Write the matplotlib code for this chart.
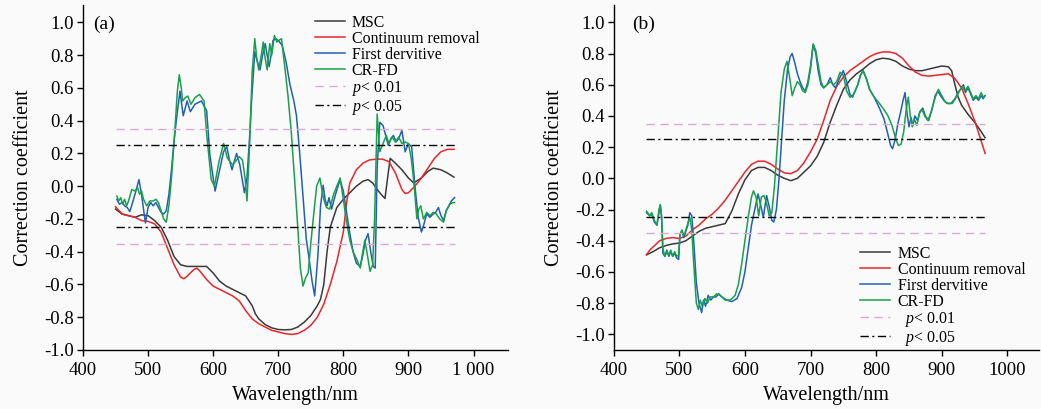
import matplotlib
matplotlib.use("Agg")
import matplotlib.pyplot as plt

plt.rcParams['font.family'] = ['Liberation Serif', 'DejaVu Serif']
plt.rcParams['mathtext.fontset'] = 'custom'
plt.rcParams['mathtext.it'] = 'Liberation Serif:italic'
plt.rcParams['mathtext.rm'] = 'Liberation Serif'
plt.rcParams['axes.unicode_minus'] = False

# ---------------- panel (a) ----------------
msc_a_x = [450, 460, 470, 480, 490, 500, 510, 520, 530, 540, 550, 560, 570, 580, 590,
           600, 610, 620, 630, 640, 650, 660, 665, 670, 680, 690, 700, 710, 720, 730,
           740, 750, 760, 765, 770, 775, 780, 790, 800, 810, 820, 830, 838, 845, 852,
           858, 864, 868, 872, 880, 890, 900, 908, 920, 930, 938, 950, 960, 970]
msc_a = [-0.14, -0.17, -0.18, -0.19, -0.175, -0.18, -0.21, -0.25, -0.33, -0.43, -0.48,
         -0.49, -0.49, -0.49, -0.49, -0.53, -0.58, -0.61, -0.63, -0.65, -0.67, -0.73,
         -0.78, -0.81, -0.845, -0.865, -0.875, -0.877, -0.875, -0.86, -0.83, -0.79,
         -0.73, -0.69, -0.60, -0.40, -0.25, -0.13, -0.08, -0.04, 0.0, 0.03, 0.04, 0.02,
         -0.02, -0.05, -0.075, 0.05, 0.17, 0.14, 0.10, 0.05, 0.02, 0.05, 0.09, 0.11,
         0.10, 0.08, 0.055]

cr_a_x = [450, 460, 470, 480, 490, 500, 510, 520, 530, 540, 550, 555, 560, 570, 575,
          580, 590, 600, 610, 620, 630, 640, 650, 660, 670, 680, 690, 700, 710, 720,
          730, 740, 750, 760, 770, 780, 790, 800, 805, 810, 820, 830, 840, 850, 860,
          870, 880, 890, 895, 900, 910, 920, 930, 940, 950, 960, 970]
cr_a = [-0.125, -0.17, -0.18, -0.19, -0.21, -0.215, -0.23, -0.28, -0.38, -0.48, -0.555,
        -0.565, -0.55, -0.51, -0.50, -0.52, -0.57, -0.61, -0.63, -0.65, -0.67, -0.70,
        -0.76, -0.81, -0.84, -0.86, -0.88, -0.89, -0.90, -0.905, -0.90, -0.88, -0.85,
        -0.80, -0.72, -0.60, -0.46, -0.28, -0.10, 0.02, 0.10, 0.14, 0.16, 0.165, 0.165,
        0.15, 0.08, -0.02, -0.045, -0.04, 0.0, 0.05, 0.11, 0.17, 0.21, 0.225, 0.225]

fd_a_x = [452, 456, 460, 464, 468, 472, 477, 482, 486, 490, 493, 496, 500, 504, 508,
          512, 516, 520, 524, 528, 532, 536, 540, 544, 549, 554, 560, 565, 572, 582,
          590, 595, 603, 610, 616, 621, 625, 629, 636, 641, 648, 652, 656, 659, 664,
          668, 672, 676, 680, 683, 686, 689, 692, 697, 702, 706, 712, 718, 724, 728,
          733, 738, 743, 748, 752, 756, 761, 765, 769, 772, 775, 778, 782, 788, 795,
          800, 805, 810, 815, 820, 826, 830, 834, 838, 842, 846, 849, 852, 856, 861,
          865, 869, 873, 877, 881, 885, 890, 895, 900, 905, 910, 915, 920, 924, 928,
          933, 938, 942, 946, 950, 954, 958, 962, 966, 971]
fd_a = [-0.08, -0.11, -0.10, -0.12, -0.13, -0.155, -0.09, -0.02, 0.04, -0.05, -0.14,
        -0.225, -0.13, -0.10, -0.12, -0.10, -0.13, -0.16, -0.17, -0.15, -0.05, 0.10,
        0.28, 0.42, 0.58, 0.43, 0.52, 0.455, 0.50, 0.52, 0.46, 0.19, -0.03, 0.10, 0.21,
        0.24, 0.16, 0.10, 0.20, 0.13, -0.04, 0.05, 0.30, 0.52, 0.82, 0.76, 0.71, 0.80,
        0.87, 0.80, 0.73, 0.80, 0.89, 0.90, 0.88, 0.86, 0.76, 0.62, 0.52, 0.43, 0.20,
        -0.06, -0.32, -0.46, -0.58, -0.67, -0.42, -0.12, 0.006, -0.08, -0.12, -0.07,
        -0.14, -0.05, 0.04, -0.03, -0.16, -0.29, -0.40, -0.47, -0.49, -0.42, -0.33,
        -0.29, -0.40, -0.49, -0.50, 0.12, 0.39, 0.37, 0.31, 0.25, 0.29, 0.31, 0.27,
        0.29, 0.34, 0.21, 0.26, 0.24, 0.00, -0.19, -0.28, -0.23, -0.17, -0.19, -0.17,
        -0.16, -0.13, -0.18, -0.21, -0.15, -0.12, -0.09, -0.07]

crfd_a_x = [452, 455, 458, 461, 464, 467, 470, 475, 480, 484, 487, 490, 493, 498, 503,
            508, 512, 516, 520, 524, 528, 532, 536, 541, 545, 548, 551, 553, 557, 561,
            566, 572, 579, 586, 590, 597, 602, 609, 616, 622, 630, 636, 640, 645, 649,
            652, 656, 660, 664, 667, 670, 674, 677, 680, 683, 687, 690, 694, 698, 701,
            705, 710, 715, 720, 725, 729, 734, 738, 742, 746, 750, 754, 759, 764, 767,
            770, 774, 779, 785, 790, 795, 800, 805, 810, 815, 821, 826, 829, 833, 837,
            841, 845, 848, 852, 856, 861, 866, 870, 875, 880, 885, 890, 895, 900, 904,
            908, 913, 916, 919, 923, 928, 933, 938, 943, 948, 954, 958, 964, 968, 971]
crfd_a = [-0.06, -0.09, -0.07, -0.11, -0.08, -0.12, -0.09, -0.02, -0.03, -0.01, -0.05,
          -0.03, -0.08, -0.12, -0.09, -0.09, -0.08, -0.10, -0.15, -0.20, -0.22, -0.12,
          0.05, 0.33, 0.58, 0.68, 0.60, 0.52, 0.54, 0.55, 0.50, 0.54, 0.56, 0.52, 0.32,
          0.04, 0.00, 0.15, 0.26, 0.17, 0.13, 0.16, 0.18, 0.16, 0.05, -0.09, 0.25, 0.70,
          0.90, 0.78, 0.71, 0.80, 0.88, 0.78, 0.71, 0.87, 0.80, 0.92, 0.88, 0.89, 0.90,
          0.73, 0.55, 0.33, 0.05, -0.19, -0.50, -0.61, -0.56, -0.53, -0.35, -0.19, 0.00,
          0.05, -0.02, -0.08, -0.13, -0.14, -0.05, 0.00, 0.05, -0.08, -0.22, -0.33,
          -0.40, -0.45, -0.50, -0.42, -0.33, -0.42, -0.52, -0.48, -0.20, 0.44, 0.21,
          0.26, 0.31, 0.26, 0.30, 0.27, 0.30, 0.26, 0.27, 0.26, 0.18, 0.04, -0.20, -0.14,
          -0.12, -0.20, -0.16, -0.18, -0.16, -0.17, -0.20, -0.22, -0.15, -0.11, -0.10,
          -0.10]

# ---------------- panel (b) ----------------
msc_b_x = [450, 460, 470, 480, 490, 500, 510, 520, 530, 540, 550, 560, 570, 580, 590,
           600, 610, 620, 630, 640, 650, 660, 670, 680, 690, 700, 710, 720, 730, 740,
           750, 760, 770, 780, 790, 800, 810, 820, 830, 840, 850, 860, 870, 880, 890,
           900, 910, 915, 920, 925, 930, 940, 950, 960, 966]
msc_b = [-0.49, -0.47, -0.445, -0.43, -0.42, -0.415, -0.40, -0.37, -0.34, -0.32, -0.31,
         -0.30, -0.29, -0.21, -0.10, -0.01, 0.05, 0.07, 0.07, 0.05, 0.02, 0.0, -0.015,
         0.0, 0.04, 0.08, 0.14, 0.23, 0.36, 0.47, 0.57, 0.63, 0.67, 0.70, 0.735, 0.76,
         0.77, 0.765, 0.75, 0.72, 0.70, 0.69, 0.69, 0.70, 0.71, 0.72, 0.715, 0.69, 0.60,
         0.52, 0.47, 0.41, 0.36, 0.30, 0.26]

cr_b_x = [450, 455, 460, 470, 480, 490, 500, 510, 520, 530, 540, 550, 560, 570, 580,
          590, 600, 610, 620, 630, 640, 650, 660, 670, 680, 690, 700, 710, 720, 730,
          740, 750, 760, 770, 780, 790, 800, 810, 820, 830, 840, 850, 860, 870, 880,
          890, 900, 910, 920, 930, 940, 950, 960, 966]
cr_b = [-0.49, -0.46, -0.44, -0.40, -0.385, -0.38, -0.385, -0.37, -0.33, -0.30, -0.26,
        -0.23, -0.19, -0.14, -0.08, -0.02, 0.04, 0.09, 0.11, 0.11, 0.09, 0.06, 0.035,
        0.03, 0.05, 0.10, 0.17, 0.25, 0.37, 0.50, 0.59, 0.65, 0.69, 0.72, 0.75, 0.78,
        0.80, 0.81, 0.81, 0.80, 0.77, 0.72, 0.68, 0.66, 0.655, 0.66, 0.665, 0.67, 0.64,
        0.58, 0.48, 0.37, 0.24, 0.16]

fd_b_x = [450, 455, 458, 462, 466, 469, 471, 473, 475, 478, 481, 484, 487, 490, 493,
          496, 499, 501, 504, 507, 510, 513, 516, 519, 522, 526, 530, 534, 537, 540,
          544, 548, 552, 556, 560, 565, 572, 580, 588, 595, 600, 605, 610, 615, 620,
          624, 628, 633, 637, 641, 644, 648, 652, 656, 660, 665, 669, 672, 676, 680,
          684, 688, 692, 696, 700, 704, 708, 712, 716, 720, 725, 730, 734, 738, 744,
          750, 755, 760, 764, 768, 772, 776, 780, 785, 790, 797, 805, 812, 818, 822,
          825, 829, 833, 837, 841, 844, 847, 850, 853, 856, 859, 863, 867, 871, 875,
          880, 885, 890, 894, 898, 903, 908, 914, 920, 925, 930, 933, 936, 940, 944,
          948, 952, 956, 960, 963, 966]
fd_b = [-0.22, -0.24, -0.23, -0.28, -0.30, -0.22, -0.17, -0.25, -0.48, -0.50, -0.46,
        -0.50, -0.47, -0.50, -0.48, -0.51, -0.52, -0.36, -0.34, -0.38, -0.34, -0.30,
        -0.22, -0.24, -0.40, -0.67, -0.80, -0.86, -0.78, -0.82, -0.75, -0.78, -0.76,
        -0.76, -0.74, -0.76, -0.78, -0.79, -0.77, -0.70, -0.60, -0.45, -0.30, -0.20,
        -0.10, -0.17, -0.25, -0.11, -0.18, -0.27, -0.28, -0.20, 0.00, 0.25, 0.50, 0.70,
        0.78, 0.80, 0.74, 0.67, 0.62, 0.58, 0.56, 0.62, 0.72, 0.86, 0.80, 0.68, 0.60,
        0.58, 0.60, 0.645, 0.60, 0.58, 0.64, 0.69, 0.62, 0.54, 0.52, 0.56, 0.60, 0.66,
        0.69, 0.64, 0.57, 0.52, 0.45, 0.38, 0.28, 0.21, 0.19, 0.25, 0.35, 0.42, 0.50,
        0.55, 0.42, 0.33, 0.39, 0.34, 0.40, 0.37, 0.43, 0.45, 0.40, 0.37, 0.44, 0.53,
        0.56, 0.53, 0.50, 0.48, 0.48, 0.51, 0.55, 0.58, 0.60, 0.55, 0.58, 0.54, 0.50,
        0.52, 0.50, 0.53, 0.51, 0.53]

crfd_b_x = [450, 455, 458, 462, 466, 469, 471, 473, 475, 478, 481, 484, 487, 490, 493,
            496, 499, 501, 504, 507, 510, 513, 516, 519, 522, 526, 529, 532, 535, 539,
            543, 547, 552, 557, 562, 570, 578, 585, 590, 595, 600, 605, 610, 613, 617,
            621, 625, 629, 633, 637, 641, 645, 650, 655, 660, 664, 668, 672, 676, 680,
            684, 688, 692, 696, 700, 704, 708, 712, 716, 720, 725, 730, 735, 740, 745,
            750, 755, 760, 764, 768, 772, 776, 780, 785, 790, 797, 805, 812, 818, 824,
            830, 834, 838, 842, 846, 849, 852, 855, 858, 862, 866, 870, 874, 879, 884,
            890, 895, 900, 905, 910, 916, 922, 927, 931, 935, 940, 944, 948, 952, 956,
            960, 963, 966]
crfd_b = [-0.21, -0.24, -0.22, -0.27, -0.30, -0.20, -0.17, -0.24, -0.45, -0.50, -0.47,
          -0.49, -0.46, -0.50, -0.47, -0.50, -0.49, -0.36, -0.33, -0.37, -0.33, -0.29,
          -0.25, -0.33, -0.55, -0.80, -0.84, -0.78, -0.82, -0.77, -0.80, -0.76, -0.76,
          -0.74, -0.75, -0.78, -0.78, -0.75, -0.68, -0.55, -0.40, -0.25, -0.12, -0.08,
          -0.12, -0.24, -0.12, -0.11, -0.16, -0.24, -0.22, -0.05, 0.25, 0.55, 0.70, 0.75,
          0.65, 0.53, 0.58, 0.62, 0.60, 0.56, 0.55, 0.60, 0.70, 0.86, 0.82, 0.72, 0.62,
          0.58, 0.60, 0.62, 0.60, 0.62, 0.68, 0.66, 0.56, 0.52, 0.53, 0.56, 0.60, 0.66,
          0.69, 0.64, 0.57, 0.52, 0.48, 0.44, 0.40, 0.34, 0.25, 0.21, 0.22, 0.30, 0.45,
          0.52, 0.40, 0.33, 0.38, 0.34, 0.42, 0.44, 0.40, 0.37, 0.43, 0.52, 0.57, 0.53,
          0.49, 0.48, 0.48, 0.52, 0.56, 0.59, 0.56, 0.59, 0.55, 0.51, 0.53, 0.51, 0.55,
          0.52, 0.53]

# significance thresholds
p01 = 0.35
p05 = 0.25
thr_span_a = (450, 971)
thr_span_b = (450, 966)

labels = ["MSC", "Continuum removal", "First dervitive", "CR-FD"]
colors = ["#3a3a3a", "#e8262b", "#2360b4", "#19a04b"]
pink = "#d9aad6"

fig = plt.figure(figsize=(10.41, 4.09), dpi=100)
fig.patch.set_facecolor("#fafafa")

ax_a = fig.add_axes([0.0797, 0.1443, 0.4083, 0.8435])
ax_b = fig.add_axes([0.5895, 0.1443, 0.4085, 0.8435])

panels = [
    (ax_a, [(msc_a_x, msc_a), (cr_a_x, cr_a), (fd_a_x, fd_a), (crfd_a_x, crfd_a)],
     thr_span_a, (400, 1053), (-1.0, 1.106),
     ["400", "500", "600", "700", "800", "900", "1 000"], "(a)", 0.024,
     (0.545, 0.972), ""),
    (ax_b, [(msc_b_x, msc_b), (cr_b_x, cr_b), (fd_b_x, fd_b), (crfd_b_x, crfd_b)],
     thr_span_b, (400, 1048), (-1.1, 1.111),
     ["400", "500", "600", "700", "800", "900", "1000"], "(b)", 0.043,
     (0.58, 0.302), "  "),
]

for ax, series, span, xlim, ylim, xtl, tag, tag_x, anchor, indent in panels:
    ax.set_facecolor("#fafafa")
    for (x, y), lab, c in zip(series, labels, colors):
        ax.plot(x, y, color=c, lw=1.1, label=lab)
    for s in (1, -1):
        ax.hlines(s * p01, span[0], span[1], colors=pink, lw=1.0,
                  linestyles=(0, (6, 4)),
                  label=indent + r"$\it{p}$< 0.01" if s == 1 else None)
        ax.hlines(s * p05, span[0], span[1], colors="black", lw=1.0,
                  linestyles=(0, (6, 2.5, 1.5, 2.5)),
                  label=indent + r"$\it{p}$< 0.05" if s == 1 else None)

    ax.set_xlim(*xlim)
    ax.set_ylim(*ylim)
    ax.set_xticks([400, 500, 600, 700, 800, 900, 1000])
    ax.set_xticklabels(xtl)
    yt = [-1.0, -0.8, -0.6, -0.4, -0.2, 0.0, 0.2, 0.4, 0.6, 0.8, 1.0]
    ax.set_yticks(yt)
    ax.set_yticklabels(["%.1f" % v for v in yt])
    ax.tick_params(direction="out", length=4, width=1, labelsize=13.5)
    ax.tick_params(axis="x", pad=5)
    ax.tick_params(axis="y", pad=2.5)
    for side in ("top", "right"):
        ax.spines[side].set_visible(False)
    for side in ("left", "bottom"):
        ax.spines[side].set_linewidth(1.0)

    ax.set_xlabel("Wavelength/nm", fontsize=14.5, labelpad=5)
    ax.set_ylabel("Correction coefficient", fontsize=14.5, labelpad=8)
    ax.text(tag_x, 0.945, tag, transform=ax.transAxes, fontsize=14,
            va="center", ha="left")

    ax.legend(loc="upper left", bbox_to_anchor=anchor, frameon=False,
              fontsize=11.4, handlelength=1.9, handletextpad=0.45,
              labelspacing=0.0, borderpad=0, borderaxespad=0)

fig.savefig("out.png", dpi=100, facecolor=fig.get_facecolor())
